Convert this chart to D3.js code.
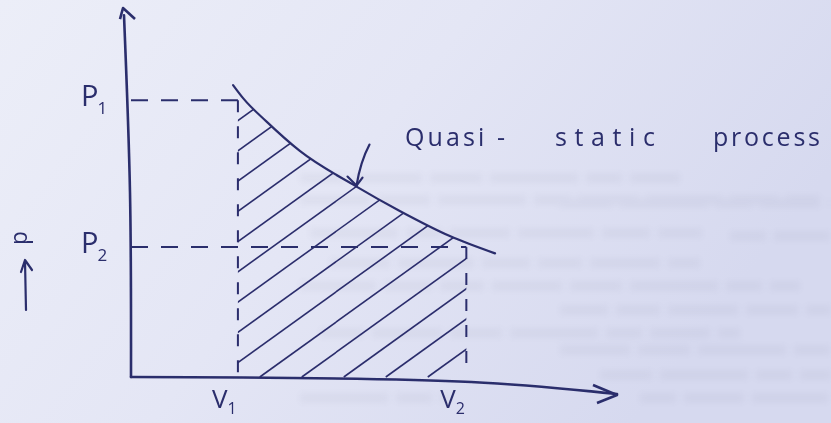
<!DOCTYPE html>
<html>
<head>
<meta charset="utf-8">
<script src="https://cdn.jsdelivr.net/npm/d3@7/dist/d3.min.js"></script>
<style>
  html, body { margin: 0; padding: 0; background: #e6e8f5; }
  svg { display: block; }
  text { font-family: "Open Sans", "DejaVu Sans", sans-serif; fill: #2b2d6c; }
</style>
</head>
<body>
<svg id="chart" width="831" height="423"></svg>
<script>
// P–V diagram of a quasi-static expansion from state 1 to state 2.
const stateIndex   = ["1", "2"];
const stateVolume  = [2.2, 6.9];   // V1, V2
const statePress   = [7.5, 3.52];  // P1, P2
const curveVolume  = [2.10, 2.31, 2.79, 3.48, 4.64, 5.53, 6.56, 7.49];
const curvePress   = [7.91, 7.55, 6.92, 6.12, 5.16, 4.50, 3.82, 3.35];
const processWords = ["Quasi -", "static", "process"];
const axisSymbols  = ["P", "V"];

const W = 831, H = 423;
const ink = "#2b2d6c";
const svg = d3.select("#chart");

// paper background
const defs = svg.append("defs");
const grad = defs.append("linearGradient").attr("id", "paper")
  .attr("x1", 0).attr("y1", 0).attr("x2", 1).attr("y2", 0.4);
grad.append("stop").attr("offset", "0").attr("stop-color", "#eceef8");
grad.append("stop").attr("offset", "0.5").attr("stop-color", "#e4e6f5");
grad.append("stop").attr("offset", "1").attr("stop-color", "#d6d9ef");
svg.append("rect").attr("width", W).attr("height", H).attr("fill", "url(#paper)");

defs.append("filter").attr("id", "haze").append("feGaussianBlur").attr("stdDeviation", 3.2);
defs.append("filter").attr("id", "soft").append("feGaussianBlur").attr("stdDeviation", 0.45);

// faint print showing through from the reverse side of the sheet
const bleed = svg.append("g").attr("filter", "url(#haze)").attr("opacity", 0.045);
const wordPattern = [44, 70, 52, 88, 36, 60, 76, 48];
[[300, 178, 380], [300, 200, 520], [560, 203, 270], [310, 233, 400], [730, 236, 100],
 [330, 263, 370], [300, 286, 500], [560, 310, 271], [320, 333, 420], [560, 350, 271],
 [600, 375, 231], [300, 398, 150], [640, 398, 191]]
  .forEach(([bx, by, bw], r) => {
    let cx = bx, k = r;
    while (cx < bx + bw) {
      const ww = Math.min(wordPattern[k % wordPattern.length], bx + bw - cx);
      bleed.append("rect").attr("x", cx).attr("y", by - 5)
        .attr("width", ww).attr("height", 10).attr("fill", "#4a4c6a");
      cx += ww + 8; k++;
    }
  });

// scales
const x = d3.scaleLinear().domain([0, 10]).range([131, 617]);
const y = d3.scaleLinear().domain([0, 10]).range([377, 8]);

const g = svg.append("g").attr("filter", "url(#soft)");

// axes (hand-drawn, slightly leaning)
const axisLean = 7, axisDroop = 17;
g.append("path")
  .attr("d", d3.line().curve(d3.curveCatmullRom)([
    [x(0), y(0)], [x(0) - 1, y(5)], [x(0) - axisLean, y(9.8)]
  ]))
  .attr("fill", "none").attr("stroke", ink).attr("stroke-width", 2.6).attr("stroke-linecap", "round");
g.append("path")
  .attr("d", `M${x(0) - axisLean - 4},${y(9.7)} L${x(0) - axisLean - 1},${y(10)} L${x(0) - axisLean + 11},${y(9.7)}`)
  .attr("fill", "none").attr("stroke", ink).attr("stroke-width", 2.6).attr("stroke-linejoin", "round");

g.append("path")
  .attr("d", d3.line().curve(d3.curveCatmullRom)([
    [x(0), y(0)], [x(7), y(0) + 5], [x(10), y(0) + axisDroop]
  ]))
  .attr("fill", "none").attr("stroke", ink).attr("stroke-width", 2.6).attr("stroke-linecap", "round");
g.append("path")
  .attr("d", `M${x(10) - 24},${y(0) + axisDroop - 9} L${x(10)},${y(0) + axisDroop + 1} L${x(10) - 20},${y(0) + axisDroop + 9}`)
  .attr("fill", "none").attr("stroke", ink).attr("stroke-width", 2.6).attr("stroke-linejoin", "round");

// process curve
const pts = curveVolume.map((v, i) => [x(v), y(curvePress[i])]);
const smooth = d3.curveMonotoneX;
const curveLine = d3.line().curve(smooth);

// hatched work area under the curve between V1 and V2
defs.append("clipPath").attr("id", "band").append("rect")
  .attr("x", x(stateVolume[0])).attr("y", 0)
  .attr("width", x(stateVolume[1]) - x(stateVolume[0])).attr("height", y(0) + 4);
defs.append("clipPath").attr("id", "under").append("path")
  .attr("d", d3.area().curve(smooth)
    .x(d => d[0]).y0(y(0) + 3).y1(d => d[1])(pts));

const hatch = g.append("g").attr("clip-path", "url(#band)")
  .append("g").attr("clip-path", "url(#under)");
const hSlope = 0.72, hStep = 42;
for (let x0 = x(2.65) - hStep * 11; x0 <= x(stateVolume[1]) + 2; x0 += hStep) {
  hatch.append("line")
    .attr("x1", x0).attr("y1", y(0))
    .attr("x2", x0 + 400).attr("y2", y(0) - 400 * hSlope)
    .attr("stroke", ink).attr("stroke-width", 1.6);
}

g.append("path").attr("d", curveLine(pts))
  .attr("fill", "none").attr("stroke", ink).attr("stroke-width", 2.2).attr("stroke-linecap", "round");

// dashed guides at P1, P2 and V1, V2
const dash = "17,13";
stateVolume.forEach((v, i) => {
  g.append("line")
    .attr("x1", x(0)).attr("y1", y(statePress[i]))
    .attr("x2", x(v)).attr("y2", y(statePress[i]))
    .attr("stroke", ink).attr("stroke-width", 2).attr("stroke-dasharray", dash);
  g.append("line")
    .attr("x1", x(v)).attr("y1", y(statePress[i]))
    .attr("x2", x(v)).attr("y2", y(0))
    .attr("stroke", ink).attr("stroke-width", 2).attr("stroke-dasharray", "12,14");
});

// state labels
stateIndex.forEach((s, i) => {
  const pl = g.append("text").attr("x", x(0) - 50).attr("y", y(statePress[i]) + 6)
    .attr("font-size", 29);
  pl.append("tspan").text(axisSymbols[0]);
  pl.append("tspan").attr("dx", -1).attr("dy", 8).attr("font-size", 17).text(s);

  const vl = g.append("text").attr("x", x(stateVolume[i]) - 26).attr("y", y(0) + 31)
    .attr("font-size", 26);
  vl.append("tspan").text(axisSymbols[1]);
  vl.append("tspan").attr("dy", 6).attr("font-size", 16).text(s);
});

// pressure symbol with upward arrow beside the vertical axis
g.append("text")
  .attr("transform", "translate(27,238) rotate(-90) scale(1.0,1.1)")
  .attr("text-anchor", "middle")
  .attr("font-size", 22).text("p");
g.append("path").attr("d", "M26,310 L25,261 M21,272 L25,260 L32,270")
  .attr("fill", "none").attr("stroke", ink).attr("stroke-width", 2.2)
  .attr("stroke-linecap", "round").attr("stroke-linejoin", "round");

// process annotation and its pointer
const wordX = [405, 555, 713], wordW = [100, 100, 107];
processWords.forEach((w, i) => {
  g.append("text").attr("x", wordX[i]).attr("y", 146)
    .attr("font-size", 25).attr("textLength", wordW[i]).attr("lengthAdjust", "spacing")
    .text(w);
});
const tip = pts[4];
g.append("path")
  .attr("d", `M${tip[0] + 13},${tip[1] - 42} Q${tip[0] + 4},${tip[1] - 25} ${tip[0]},${tip[1] - 1}`)
  .attr("fill", "none").attr("stroke", ink).attr("stroke-width", 2.2).attr("stroke-linecap", "round");
g.append("path")
  .attr("d", `M${tip[0] - 9},${tip[1] - 10} L${tip[0]},${tip[1] - 1} L${tip[0] + 6},${tip[1] - 9}`)
  .attr("fill", "none").attr("stroke", ink).attr("stroke-width", 2.2)
  .attr("stroke-linecap", "round").attr("stroke-linejoin", "round");
</script>
</body>
</html>
